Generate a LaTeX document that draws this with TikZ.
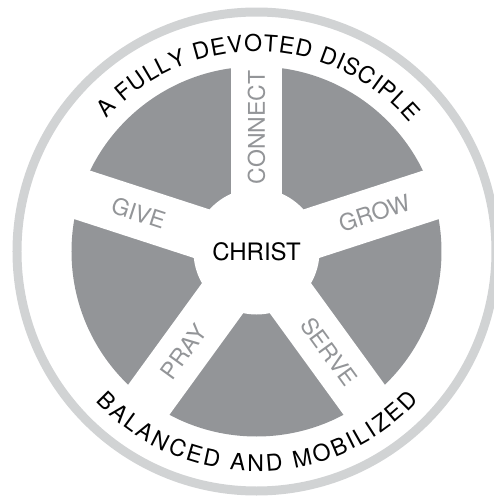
\documentclass[tikz,border=0pt]{standalone}
\usepackage{fontspec}
\setmainfont{TeX Gyre Heros}
\usetikzlibrary{decorations.text}
\definecolor{wheelgray}{HTML}{939598}
\definecolor{ringgray}{HTML}{D1D3D4}
\newcommand\bigfont{\fontsize{23}{27}\selectfont}
\newcommand\hubfont{\fontsize{24}{28}\selectfont}
\begin{document}
\begin{tikzpicture}[x=1pt,y=1pt,
  spoketext/.style={text=wheelgray, font=\bigfont, inner sep=0pt, anchor=center},
  hubtext/.style={text=black, font=\hubfont, inner sep=0pt},
  spokebar/.style={fill=white}]
\useasboundingbox (-256.5,-247.5) rectangle (237.5,251.5);
% outer ring
\draw[ringgray, line width=9pt] (0,0) circle[radius=239.5pt];
% wheel
\fill[wheelgray] (0,0) circle[radius=185pt];
\foreach \a in {90,162,234,306,18}{
  \fill[spokebar, rotate=\a] (0,-25.5) rectangle (195,25.5);
}
\fill[white] (0,0) circle[radius=63pt];
% labels
\node[hubtext] (christ) at (0,0) {CHRIST};
\node[spoketext, rotate=90] (connect) at (90:124) {CONNECT};
\node[spoketext, rotate=-18] (give) at (162:124) {GIVE};
\node[spoketext, rotate=18] (grow) at (18:124) {GROW};
\node[spoketext, rotate=54] (pray) at (234:124) {PRAY};
\node[spoketext, rotate=-54] (serve) at (306:124) {SERVE};
% arc texts
\path[decorate, decoration={text along path, text={|\bigfont|A FULLY DEVOTED DISCIPLE}, text align={fit to path}}]
  (138.5:200) arc[start angle=138.5, end angle=40.2, radius=200pt];
\path[decorate, decoration={text along path, text={|\bigfont|BALANCED AND MOBILIZED}, text align={fit to path}}]
  (223.1:220) arc[start angle=223.1, end angle=317.5, radius=220pt];
\end{tikzpicture}
\end{document}
